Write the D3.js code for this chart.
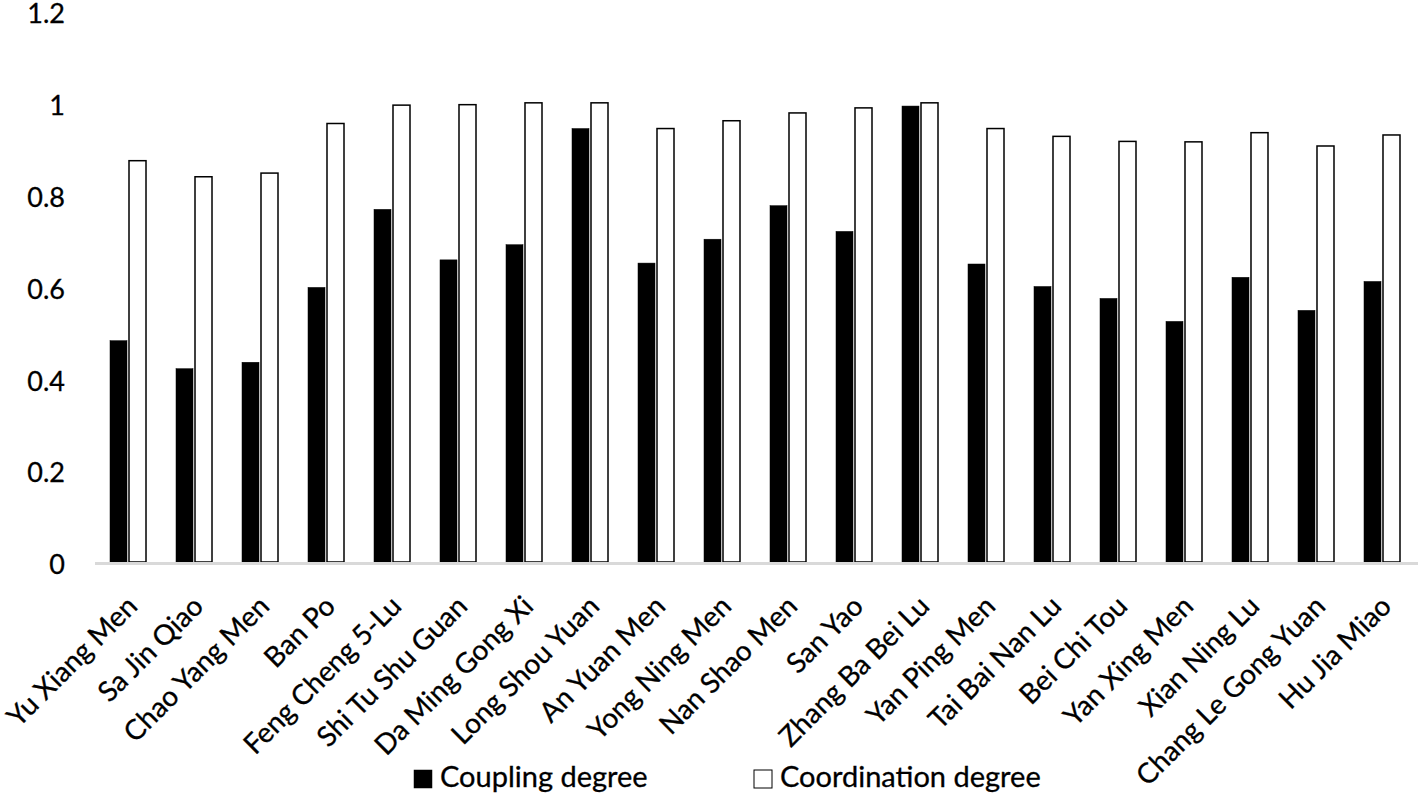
<!DOCTYPE html>
<html>
<head>
<meta charset="utf-8">
<script src="https://cdn.jsdelivr.net/npm/d3@7"></script>
<style>
  body { margin: 0; background: #fff; }
  text { font-family: Lato, "Open Sans", sans-serif; fill: #000; stroke: #000; stroke-width: 0.3px; }
</style>
</head>
<body>
<div class="holder"></div>
<script>
var stations = ['Yu Xiang Men', 'Sa Jin Qiao', 'Chao Yang Men', 'Ban Po', 'Feng Cheng 5-Lu',
  'Shi Tu Shu Guan', 'Da Ming Gong Xi', 'Long Shou Yuan', 'An Yuan Men', 'Yong Ning Men',
  'Nan Shao Men', 'San Yao', 'Zhang Ba Bei Lu', 'Yan Ping Men', 'Tai Bai Nan Lu',
  'Bei Chi Tou', 'Yan Xing Men', 'Xian Ning Lu', 'Chang Le Gong Yuan', 'Hu Jia Miao']

var coupling = [0.482, 0.421, 0.435, 0.598, 0.768, 0.658, 0.691, 0.944, 0.651, 0.703,
  0.776, 0.720, 0.993, 0.649, 0.600, 0.574, 0.524, 0.620, 0.548, 0.611]

var coordination = [0.874, 0.839, 0.847, 0.955, 0.995, 0.996, 1.0, 1.0, 0.944, 0.961,
  0.978, 0.989, 1.0, 0.944, 0.927, 0.916, 0.915, 0.935, 0.906, 0.930]

var seriesNames = ['Coupling degree', 'Coordination degree']
var yTicks = [0, 0.2, 0.4, 0.6, 0.8, 1, 1.2]

var width = 1418,
    height = 794

var svg = d3.select('.holder')
  .append('svg')
  .attr('width', width)
  .attr('height', height)

var xScale = d3.scaleBand()
  .domain(stations)
  .range([95, 1415])
  .paddingInner(0.4545)
  .paddingOuter(0.2273)

var xInner = d3.scaleBand()
  .domain(seriesNames)
  .range([0, xScale.bandwidth()])
  .paddingInner(0.105)

var yScale = d3.scaleLinear()
  .domain([0, 1.2])
  .range([562, 11])

var rows = stations.map(function(s, i) {
  return { name: s, values: [coupling[i], coordination[i]] }
})

// y labels only, no axis line
var yAxis = d3.axisLeft(yScale)
  .tickValues(yTicks)
  .tickFormat(function(d) { return d3.format('~g')(d) })
  .tickSize(0)
  .tickPadding(0)

var yG = svg.append('g')
  .attr('transform', 'translate(65,0)')
  .call(yAxis)
yG.select('.domain').remove()
yG.selectAll('text')
  .style('font-family', 'Lato, sans-serif')
  .style('font-size', '27px')
  .attr('dy', '0.36em')
  .attr('y', 2)

// bars
var groups = svg.selectAll('.grp')
  .data(rows)
  .enter()
  .append('g')
  .attr('class', 'grp')
  .attr('transform', function(d) { return 'translate(' + xScale(d.name) + ',0)' })

groups.selectAll('rect')
  .data(function(d) {
    return d.values.map(function(v, k) { return { key: seriesNames[k], v: v, k: k } })
  })
  .enter()
  .append('rect')
  .attr('x', function(d) { return xInner(d.key) })
  .attr('width', xInner.bandwidth())
  .attr('y', function(d) { return yScale(d.v) })
  .attr('height', function(d) { return yScale(0) - yScale(d.v) })
  .attr('fill', function(d) { return d.k == 0 ? '#000' : '#fff' })
  .attr('stroke', '#000')
  .attr('stroke-width', function(d) { return d.k == 0 ? 0.5 : 1.5 })

// x axis baseline + rotated labels
var xAxis = d3.axisBottom(xScale).tickSize(0).tickPadding(0)
var xG = svg.append('g')
  .attr('transform', 'translate(0,' + yScale(0) + ')')
  .call(xAxis)
xG.select('.domain')
  .attr('stroke', '#d9d9d9')
  .attr('stroke-width', 3)
  .attr('d', 'M95,1.5H1418')
xG.selectAll('text')
  .style('font-family', 'Lato, sans-serif')
  .style('font-size', '28px')
  .attr('text-anchor', 'end')
  .attr('dy', null)
  .attr('y', 0)
  .attr('transform', 'translate(11,46) rotate(-45)')

// legend
var legend = svg.append('g').attr('id', 'legend')
var legX = [414, 754]
seriesNames.forEach(function(name, k) {
  legend.append('rect')
    .attr('x', legX[k])
    .attr('y', 770)
    .attr('width', 18)
    .attr('height', 18)
    .attr('fill', k == 0 ? '#000' : '#fff')
    .attr('stroke', '#000')
    .attr('stroke-width', k == 0 ? 0.5 : 1)
  legend.append('text')
    .attr('x', legX[k] + 26)
    .attr('y', 787)
    .style('font-size', '29px')
    .text(name)
})
</script>
</body>
</html>
